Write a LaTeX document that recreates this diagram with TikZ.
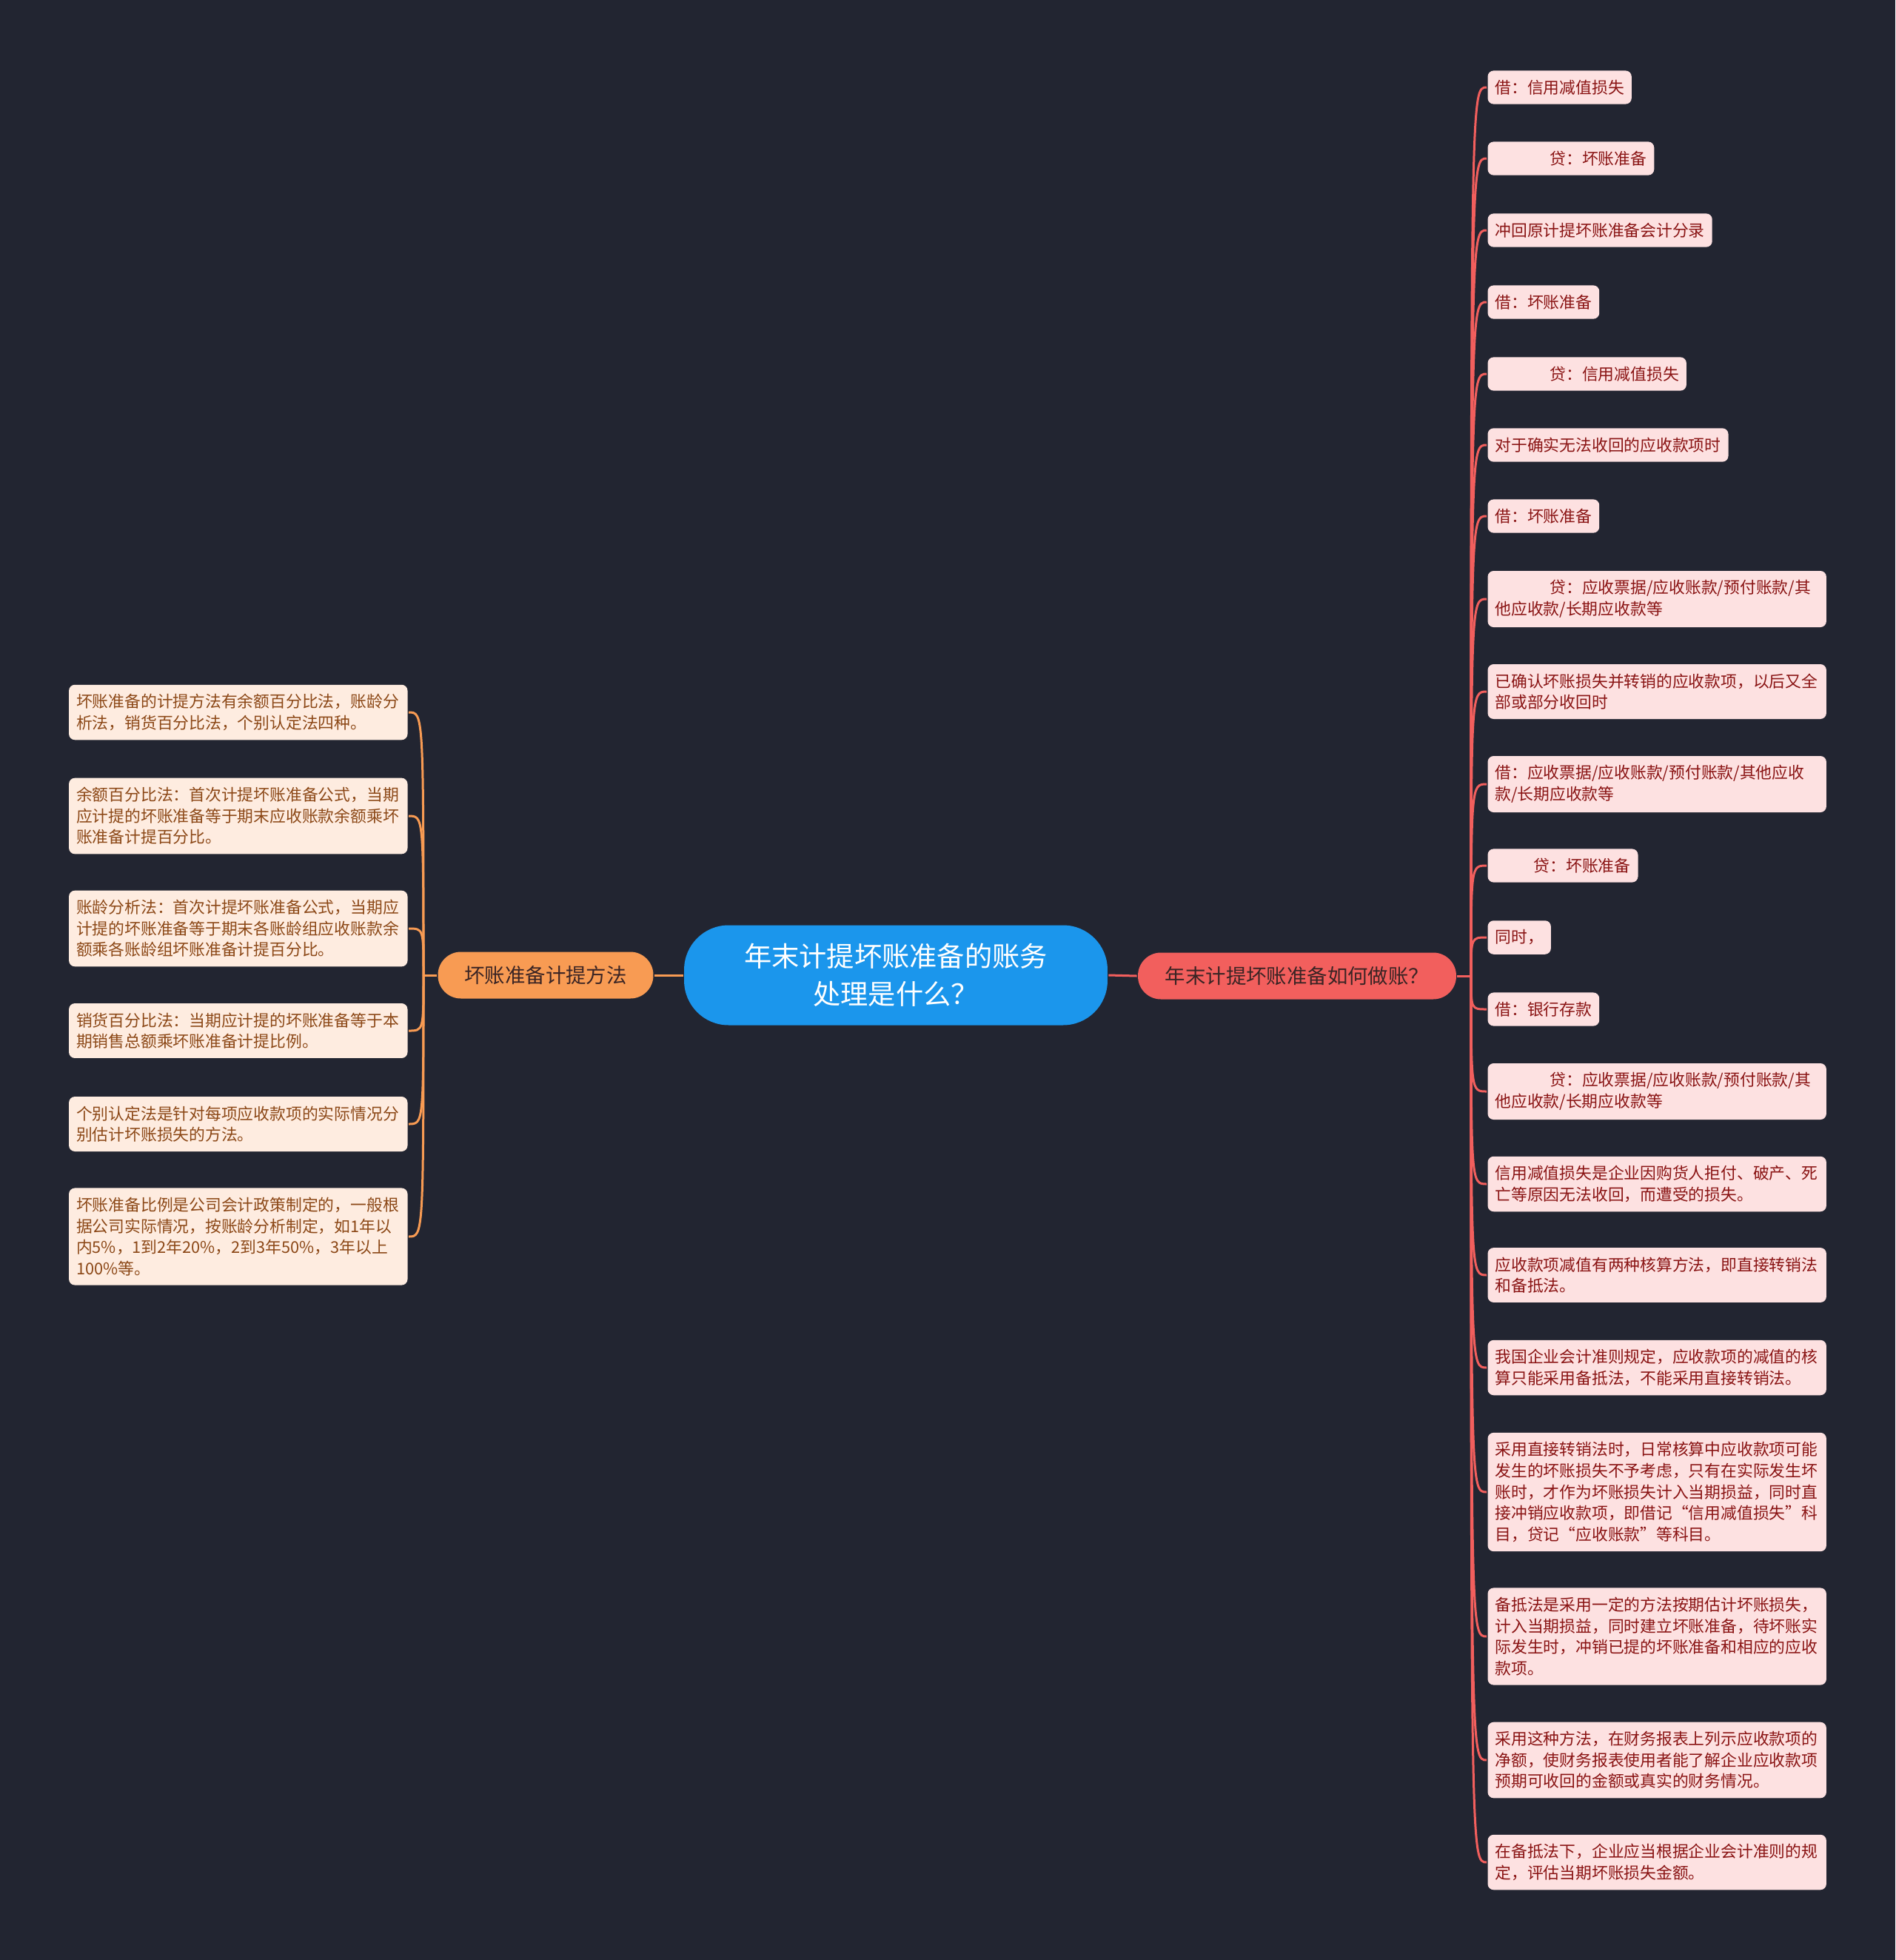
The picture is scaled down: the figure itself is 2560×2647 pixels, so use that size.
\documentclass[tikz,border=0pt]{standalone}
\usepackage{fontspec}
\setmainfont{Noto Sans CJK SC}
\usetikzlibrary{positioning}
\definecolor{cbg}{HTML}{222531}
\definecolor{cblue}{HTML}{1B96EC}
\definecolor{cred}{HTML}{F25F5D}
\definecolor{corange}{HTML}{F89B53}
\definecolor{cpink}{HTML}{FDE1E1}
\definecolor{cpeach}{HTML}{FEECE0}
\definecolor{cdarkred}{HTML}{8A1414}
\definecolor{cbrown}{HTML}{8C4817}
\definecolor{cink}{HTML}{3A2424}
\tikzset{
  every picture/.style={line width=0.06cm},
  root/.style={fill=cblue, text=white, rounded corners=1.2cm, align=center, minimum width=11.44cm, minimum height=2.7cm, font=\fontsize{21.2pt}{28.8pt}\selectfont},
  branch/.style={fill=#1, text=cink, rounded corners=0.62cm, minimum height=1.26cm, font=\fontsize{15.6pt}{19pt}\selectfont},
  leaf/.style={fill=#1, rounded corners=0.16cm, align=left, inner xsep=0.2cm, inner ysep=0.25cm, font=\fontsize{12.4pt}{16.3pt}\selectfont},
  wide/.style={text width=8.75cm},
  link/.style={draw=#1, line width=0.06cm},
}

\begin{document}
\begin{tikzpicture}[x=0.02cm, y=-0.02cm]
  \fill[cbg] (0,0) rectangle (2560,2647);
  % centre and the two branches
  \node[root] (root) at (1210,1317) {年末计提坏账准备的账务\\处理是什么？};
  \node[branch=cred, minimum width=8.6cm] (rb) at (1752,1318) {年末计提坏账准备如何做账？};
  \node[branch=corange, minimum width=5.82cm] (lb) at (737,1317) {坏账准备计提方法};
  \coordinate (rhub) at (1987,1318);
  \coordinate (lhub) at (572,1317);
  % left: methods
  \begin{scope}[every node/.style={leaf=cpeach, wide, text=cbrown, anchor=east}]
  \node (l1) at (552,962) {坏账准备的计提方法有余额百分比法，账龄分\\析法，销货百分比法，个别认定法四种。};
  \node (l2) at (552,1102) {余额百分比法：首次计提坏账准备公式，当期\\应计提的坏账准备等于期末应收账款余额乘坏\\账准备计提百分比。};
  \node (l3) at (552,1254) {账龄分析法：首次计提坏账准备公式，当期应\\计提的坏账准备等于期末各账龄组应收账款余\\额乘各账龄组坏账准备计提百分比。};
  \node (l4) at (552,1392) {销货百分比法：当期应计提的坏账准备等于本\\期销售总额乘坏账准备计提比例。};
  \node (l5) at (552,1518) {个别认定法是针对每项应收款项的实际情况分\\别估计坏账损失的方法。};
  \node (l6) at (552,1670) {坏账准备比例是公司会计政策制定的，一般根\\据公司实际情况，按账龄分析制定，如1年以\\内5\%，1到2年20\%，2到3年50\%，3年以上\\100\%等。};
  \end{scope}
  % right: entries
  \begin{scope}[every node/.style={leaf=cpink, text=cdarkred, anchor=west}]
  \node (r1) at (2008,118) {借：信用减值损失};
  \node (r2) at (2008,214) {\hspace*{3.4em}贷：坏账准备};
  \node (r3) at (2008,311) {冲回原计提坏账准备会计分录};
  \node (r4) at (2008,408) {借：坏账准备};
  \node (r5) at (2008,505) {\hspace*{3.4em}贷：信用减值损失};
  \node (r6) at (2008,601) {对于确实无法收回的应收款项时};
  \node (r7) at (2008,697) {借：坏账准备};
  \node[wide] (r8) at (2008,809) {\hspace*{3.4em}贷：应收票据/应收账款/预付账款/其\\他应收款/长期应收款等};
  \node[wide] (r9) at (2008,934) {已确认坏账损失并转销的应收款项，以后又全\\部或部分收回时};
  \node[wide] (r10) at (2008,1059) {借：应收票据/应收账款/预付账款/其他应收\\款/长期应收款等};
  \node (r11) at (2008,1169) {\hspace*{2.4em}贷：坏账准备};
  \node (r12) at (2008,1266) {同时，};
  \node (r13) at (2008,1363) {借：银行存款};
  \node[wide] (r14) at (2008,1474) {\hspace*{3.4em}贷：应收票据/应收账款/预付账款/其\\他应收款/长期应收款等};
  \node[wide] (r15) at (2008,1599) {信用减值损失是企业因购货人拒付、破产、死\\亡等原因无法收回，而遭受的损失。};
  \node[wide] (r16) at (2008,1722) {应收款项减值有两种核算方法，即直接转销法\\和备抵法。};
  \node[wide] (r17) at (2008,1847) {我国企业会计准则规定，应收款项的减值的核\\算只能采用备抵法，不能采用直接转销法。};
  \node[wide] (r18) at (2008,2015) {采用直接转销法时，日常核算中应收款项可能\\发生的坏账损失不予考虑，只有在实际发生坏\\账时，才作为坏账损失计入当期损益，同时直\\接冲销应收款项，即借记“信用减值损失”科\\目，贷记“应收账款”等科目。};
  \node[wide] (r19) at (2008,2210) {备抵法是采用一定的方法按期估计坏账损失，\\计入当期损益，同时建立坏账准备，待坏账实\\际发生时，冲销已提的坏账准备和相应的应收\\款项。};
  \node[wide] (r20) at (2008,2377) {采用这种方法，在财务报表上列示应收款项的\\净额，使财务报表使用者能了解企业应收款项\\预期可收回的金额或真实的财务情况。};
  \node[wide] (r21) at (2008,2515) {在备抵法下，企业应当根据企业会计准则的规\\定，评估当期坏账损失金额。};
  \end{scope}
  % links
  \draw[link=cred] (root.east) -- (rb.west);
  \draw[link=corange] (root.west) -- (lb.east);
  \draw[link=cred] (rb.east) -- (rhub);
  \draw[link=corange] (lb.west) -- (lhub);
  \foreach \i in {1,...,21}
    \draw[link=cred] (rhub) .. controls (rhub |- r\i.west) .. (r\i.west);
  \foreach \i in {1,...,6}
    \draw[link=corange] (lhub) .. controls (lhub |- l\i.east) .. (l\i.east);
\end{tikzpicture}
\end{document}
